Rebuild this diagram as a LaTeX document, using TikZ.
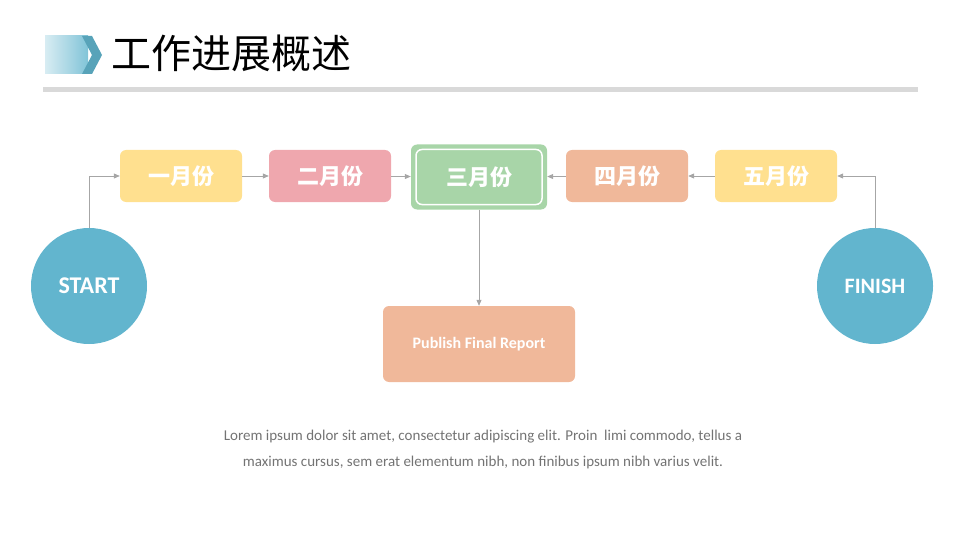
\documentclass[tikz,border=0pt]{standalone}
\usepackage{fontspec}
\setmainfont{Carlito}
\newfontfamily\cjk{Noto Sans CJK SC}
\usetikzlibrary{arrows.meta}
\definecolor{yel}{HTML}{FFE08F}
\definecolor{pnk}{HTML}{EFA7AE}
\definecolor{grn}{HTML}{A8D5A8}
\definecolor{ora}{HTML}{F0B89A}
\definecolor{blu}{HTML}{62B5CE}
\definecolor{lne}{HTML}{A6A6A6}
\tikzset{
  month/.style={rounded corners=6pt, minimum width=122pt, minimum height=52pt,
    text=white, font=\cjk\bfseries\fontsize{22}{24}\selectfont},
  endpt/.style={circle, fill=blu, minimum size=116pt, text=white,
    font=\bfseries\fontsize{24}{26}\selectfont},
  link/.style={lne, line width=0.8pt, -{Triangle[length=6pt,width=5pt]}}
}
\begin{document}
\begin{tikzpicture}[x=1pt, y=-1pt]
		\useasboundingbox (0,0) rectangle (960,540);
		% header
		\shade[left color=blu!25, right color=blu!80] (45,36) rectangle (88,74);
		\fill[blu!90!black] (82,36) -- (92,36) -- (102,55) -- (92,74) -- (82,74) -- (92,55) -- cycle;
		\node[anchor=west, font=\cjk\fontsize{40}{44}\selectfont] (title) at (108,53) {工作进展概述};
		\fill[black!15] (43,87) rectangle (918,92);
		% months
		\node[month, fill=yel] (m1) at (181,176) {一月份};
		\node[month, fill=pnk] (m2) at (330,176) {二月份};
		\node[month, fill=grn, minimum width=136pt, minimum height=65pt] (m3) at (479,177) {};
		\node[month, draw=white, line width=1.5pt, minimum width=126pt, minimum height=55pt] (m3in) at (479,177) {三月份};
		\node[month, fill=ora] (m4) at (627,176) {四月份};
		\node[month, fill=yel] (m5) at (776,176) {五月份};
		% ends
		\node[endpt] (start) at (89,286) {START};
		\node[endpt, font=\bfseries\fontsize{22}{24}\selectfont] (finish) at (875,286) {FINISH};
		\node[month, fill=ora, minimum width=192pt, minimum height=76pt,
		  font=\bfseries\fontsize{16}{18}\selectfont] (report) at (479,344) {Publish Final Report};
		% links
		\draw[link] (start.north) |- (m1.west);
		\draw[link] (m1) -- (m2);
		\draw[link] (m2) -- (m3);
		\draw[link] (m4) -- (m3);
		\draw[link] (m5) -- (m4);
		\draw[link] (finish.north) |- (m5.east);
		\draw[link] (m3) -- (report);
		% text
		\node[text=black!55, align=center, font=\fontsize{15}{26}\selectfont] (lorem) at (483,449)
		  {Lorem ipsum dolor sit amet, consectetur adipiscing elit. Proin\ \ limi commodo, tellus a\\
		   maximus cursus, sem erat elementum nibh, non finibus ipsum nibh varius velit.};
\end{tikzpicture}
\end{document}
